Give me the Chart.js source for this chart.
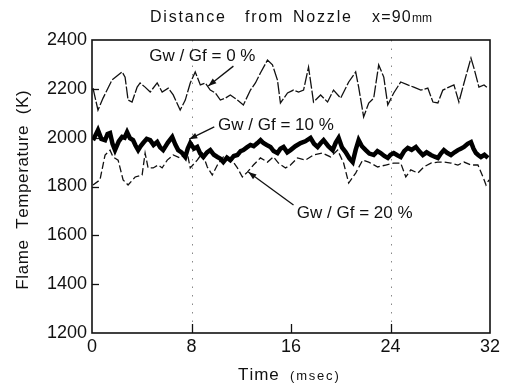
<!DOCTYPE html>
<html>
<head>
<meta charset="utf-8">
<script src="https://cdn.jsdelivr.net/npm/chart.js@4.4.1/dist/chart.umd.min.js"></script>
<style>
  html, body { margin: 0; padding: 0; background: #fff; }
  #wrap { width: 507px; height: 385px; }
</style>
</head>
<body>
<div id="wrap"><canvas id="c" width="507" height="385"></canvas></div>
<script>
// ---- Data (time in msec, flame temperature in K) ----
const TIME_0 = [0.08,0.48,0.89,1.61,2.42,2.66,2.90,3.22,3.63,3.87,4.27,4.68,5.24,5.64,6.13,6.53,7.09,7.50,7.90,8.30,8.71,9.11,9.51,9.92,10.32,10.72,11.12,11.69,12.17,12.74,13.14,13.54,14.11,14.51,14.91,15.15,15.72,16.20,16.61,17.01,17.41,17.81,18.38,18.94,19.42,19.99,20.64,21.20,21.44,21.84,22.25,22.65,23.05,23.46,23.78,24.26,24.82,25.39,25.87,26.44,27.00,27.41,27.81,28.21,28.70,29.10,29.50,29.91,30.47,30.71,31.11,31.52,31.84];
const TEMP_0 = [2203,2113,2162,2236,2269,2248,2154,2146,2207,2224,2207,2187,2224,2187,2203,2175,2113,2154,2224,2269,2216,2224,2195,2183,2154,2162,2175,2154,2134,2195,2224,2265,2318,2298,2236,2142,2183,2195,2187,2195,2289,2146,2175,2146,2195,2162,2228,2269,2207,2085,2142,2162,2298,2248,2134,2183,2228,2216,2207,2195,2203,2146,2142,2195,2207,2216,2146,2224,2326,2285,2207,2216,2203];

const TIME_10 = [0.08,0.28,0.48,0.75,1.05,1.25,1.45,1.65,1.85,2.15,2.42,2.62,2.82,3.05,3.30,3.50,3.71,3.90,4.11,4.40,4.68,4.95,5.24,5.48,5.72,6.10,6.45,6.70,6.93,7.20,7.50,7.70,7.90,8.20,8.46,8.70,8.95,9.25,9.51,9.80,10.08,10.30,10.56,10.85,11.12,11.40,11.69,11.95,12.17,12.45,12.74,13.00,13.30,13.55,13.78,14.05,14.35,14.60,14.91,15.15,15.40,15.70,15.96,16.35,16.77,17.15,17.57,17.85,18.14,18.40,18.62,19.00,19.35,19.60,19.83,20.10,20.39,20.70,20.96,21.20,21.44,21.70,22.01,22.30,22.65,22.95,23.21,23.50,23.78,24.00,24.26,24.55,24.82,25.10,25.39,25.70,26.04,26.30,26.60,26.90,27.25,27.55,27.81,28.05,28.29,28.55,28.86,29.15,29.42,29.65,29.91,30.20,30.47,30.67,30.87,31.07,31.27,31.55,31.84];
const TEMP_10 = [1990,2010,2031,1995,1990,2015,2019,1975,1949,1985,2003,2000,2023,1998,1990,1968,1949,1965,1978,1995,1990,1970,1982,1960,1949,1980,2003,1972,1949,1940,1921,1955,1978,1955,1962,1935,1921,1940,1949,1930,1921,1915,1900,1918,1908,1925,1929,1945,1949,1960,1970,1965,1978,1990,1978,1970,1962,1945,1937,1955,1962,1940,1949,1965,1978,1985,1999,1975,1962,1978,1990,1965,1949,1980,1999,1960,1941,1915,1900,1950,1990,1965,1949,1935,1929,1945,1937,1925,1917,1930,1937,1928,1921,1945,1958,1950,1962,1945,1929,1940,1929,1922,1917,1935,1949,1938,1929,1940,1949,1955,1962,1975,1982,1955,1937,1928,1921,1930,1917];

const TIME_20 = [0.08,0.64,1.05,1.45,1.69,2.10,2.50,2.90,3.47,4.03,4.27,4.51,4.92,5.32,5.64,6.05,6.53,7.09,7.66,7.90,8.46,8.87,9.27,9.67,10.08,10.56,11.12,11.69,12.09,12.49,12.98,13.54,14.11,14.59,14.99,15.56,15.96,16.52,17.17,17.81,18.54,19.18,19.75,20.23,20.64,21.20,21.76,22.25,22.97,23.62,24.26,24.82,25.23,25.63,26.20,26.68,27.25,27.81,28.29,28.86,29.42,29.91,30.47,31.03,31.44,31.68,31.92];
const TEMP_20 = [1806,1827,1929,1949,1921,1908,1827,1806,1839,1847,1937,1876,1876,1888,1876,1908,1929,1917,1937,1876,1908,1937,1880,1847,1888,1921,1917,1876,1839,1859,1888,1917,1900,1921,1896,1876,1888,1917,1908,1929,1937,1921,1949,1896,1814,1855,1908,1900,1880,1888,1896,1896,1839,1868,1855,1880,1896,1900,1900,1896,1888,1900,1888,1888,1839,1806,1827];

const X_MIN = 0, X_MAX = 32, X_STEP = 8;
const Y_MIN = 1200, Y_MAX = 2400, Y_STEP = 200;
const SERIES_LABELS = ['Gw / Gf = 0 %', 'Gw / Gf = 10 %', 'Gw / Gf = 20 %'];

// annotation anchors in data coordinates: [labelT, labelK, fromT, fromK, toT, toK]
const ANNOT = [
  [8.87, 2334, 11.37, 2293, 9.35, 2212],
  [14.79, 2052, 9.83, 2044, 7.82, 1994],
  [21.12, 1691, 16.20, 1724, 12.57, 1859]
];

function pts(ts, vs) { return ts.map((t, i) => ({x: t, y: vs[i]})); }

const FONT = '"Liberation Sans", Arial, Helvetica, sans-serif';

function spaced(ctx, text, x, y, sp) {
  let cx = x;
  for (const ch of text) {
    ctx.fillText(ch, cx, y);
    cx += ctx.measureText(ch).width + sp;
  }
  return cx;
}
function spacedWidth(ctx, text, sp) {
  let w = 0;
  for (const ch of text) w += ctx.measureText(ch).width + sp;
  return w - sp;
}

const decor = {
  id: 'decor',
  beforeDatasetsDraw(chart) {
    const {ctx, chartArea: a, scales: {x, y}} = chart;
    ctx.save();
    ctx.strokeStyle = '#888';
    ctx.lineWidth = 1;
    ctx.setLineDash([1.5, 7]);
    [8, 24].forEach(v => {
      const px = Math.round(x.getPixelForValue(v)) + 0.5;
      ctx.beginPath(); ctx.moveTo(px, a.top); ctx.lineTo(px, a.bottom); ctx.stroke();
    });
    ctx.setLineDash([]);
    ctx.strokeStyle = '#111';
    ctx.lineWidth = 1.3;
    [8, 16, 24].forEach(v => {
      const px = Math.round(x.getPixelForValue(v)) + 0.5;
      ctx.beginPath(); ctx.moveTo(px, a.bottom); ctx.lineTo(px, a.bottom - 9); ctx.stroke();
    });
    for (let v = Y_MIN + Y_STEP; v < Y_MAX; v += Y_STEP) {
      const py = Math.round(y.getPixelForValue(v)) + 0.5;
      ctx.beginPath(); ctx.moveTo(a.left, py); ctx.lineTo(a.left + 7, py); ctx.stroke();
    }
    ctx.restore();
  },
  afterDraw(chart) {
    const {ctx, chartArea: a, scales: {x, y}} = chart;
    ctx.save();
    ctx.strokeStyle = '#111';
    ctx.lineWidth = 1.6;
    ctx.strokeRect(a.left, a.top, a.right - a.left, a.bottom - a.top);

    ctx.fillStyle = '#111';
    ctx.textBaseline = 'middle';
    ctx.textAlign = 'left';
    // title
    ctx.font = '16px ' + FONT;
    spaced(ctx, 'Distance', 150, 18, 1.8);
    spaced(ctx, 'from', 245, 18, 1.8);
    spaced(ctx, 'Nozzle', 293, 18, 1.8);
    const ex = spaced(ctx, 'x=90', 372, 18, 1.2);
    ctx.font = '12px ' + FONT;
    spaced(ctx, 'mm', ex, 19, 0);

    // x title
    ctx.font = '17px ' + FONT;
    spaced(ctx, 'Time', 238, 375, 1.0);
    ctx.font = '13px ' + FONT;
    spaced(ctx, '(msec)', 290, 376, 1.8);

    // y title
    ctx.save();
    ctx.translate(23, 190);
    ctx.rotate(-Math.PI / 2);
    ctx.font = '17px ' + FONT;
    const yt = 'Flame  Temperature  (K)';
    const yw = spacedWidth(ctx, yt, 0.6);
    spaced(ctx, yt, -yw / 2, 0, 0.6);
    ctx.restore();

    // annotations
    ctx.font = '17px ' + FONT;
    ctx.textAlign = 'center';
    ANNOT.forEach((an, i) => {
      const lx = x.getPixelForValue(an[0]), ly = y.getPixelForValue(an[1]);
      ctx.fillStyle = '#111';
      ctx.fillText(SERIES_LABELS[i], lx, ly);
      const fx = x.getPixelForValue(an[2]), fy = y.getPixelForValue(an[3]);
      const tx = x.getPixelForValue(an[4]), ty = y.getPixelForValue(an[5]);
      ctx.strokeStyle = '#111';
      ctx.lineWidth = 1.3;
      ctx.beginPath(); ctx.moveTo(fx, fy); ctx.lineTo(tx, ty); ctx.stroke();
      const ang = Math.atan2(ty - fy, tx - fx);
      const L = 8, W = 3;
      ctx.beginPath();
      ctx.moveTo(tx, ty);
      ctx.lineTo(tx - L * Math.cos(ang) + W * Math.sin(ang), ty - L * Math.sin(ang) - W * Math.cos(ang));
      ctx.lineTo(tx - L * Math.cos(ang) - W * Math.sin(ang), ty - L * Math.sin(ang) + W * Math.cos(ang));
      ctx.closePath(); ctx.fill();
    });
    ctx.restore();
  }
};

new Chart(document.getElementById('c'), {
  type: 'line',
  data: {
    datasets: [
      { label: SERIES_LABELS[0], data: pts(TIME_0, TEMP_0), borderColor: '#111', borderWidth: 1.3, borderDash: [12, 2], pointRadius: 0, tension: 0 },
      { label: SERIES_LABELS[1], data: pts(TIME_10, TEMP_10), borderColor: '#000', borderWidth: 4.5, borderJoinStyle: 'miter', pointRadius: 0, tension: 0 },
      { label: SERIES_LABELS[2], data: pts(TIME_20, TEMP_20), borderColor: '#111', borderWidth: 1.3, borderDash: [7, 3], pointRadius: 0, tension: 0 }
    ]
  },
  options: {
    responsive: false,
    animation: false,
    devicePixelRatio: 1,
    layout: { padding: { top: 40, right: 17, bottom: 0, left: 0 } },
    plugins: { legend: { display: false }, tooltip: { enabled: false }, title: { display: false } },
    scales: {
      x: {
        type: 'linear', min: X_MIN, max: X_MAX,
        grid: { display: false, drawTicks: false },
        border: { display: false },
        ticks: { stepSize: X_STEP, color: '#111', padding: 3, font: { size: 18, family: FONT }, maxRotation: 0, callback: v => String(v) },
        afterFit: s => { s.height = 52; }
      },
      y: {
        min: Y_MIN, max: Y_MAX,
        grid: { display: false, drawTicks: false },
        border: { display: false },
        ticks: { stepSize: Y_STEP, color: '#111', padding: 5, font: { size: 18, family: FONT }, callback: v => String(v) },
        afterFit: s => { s.width = 92; }
      }
    }
  },
  plugins: [decor]
});
</script>
</body>
</html>
